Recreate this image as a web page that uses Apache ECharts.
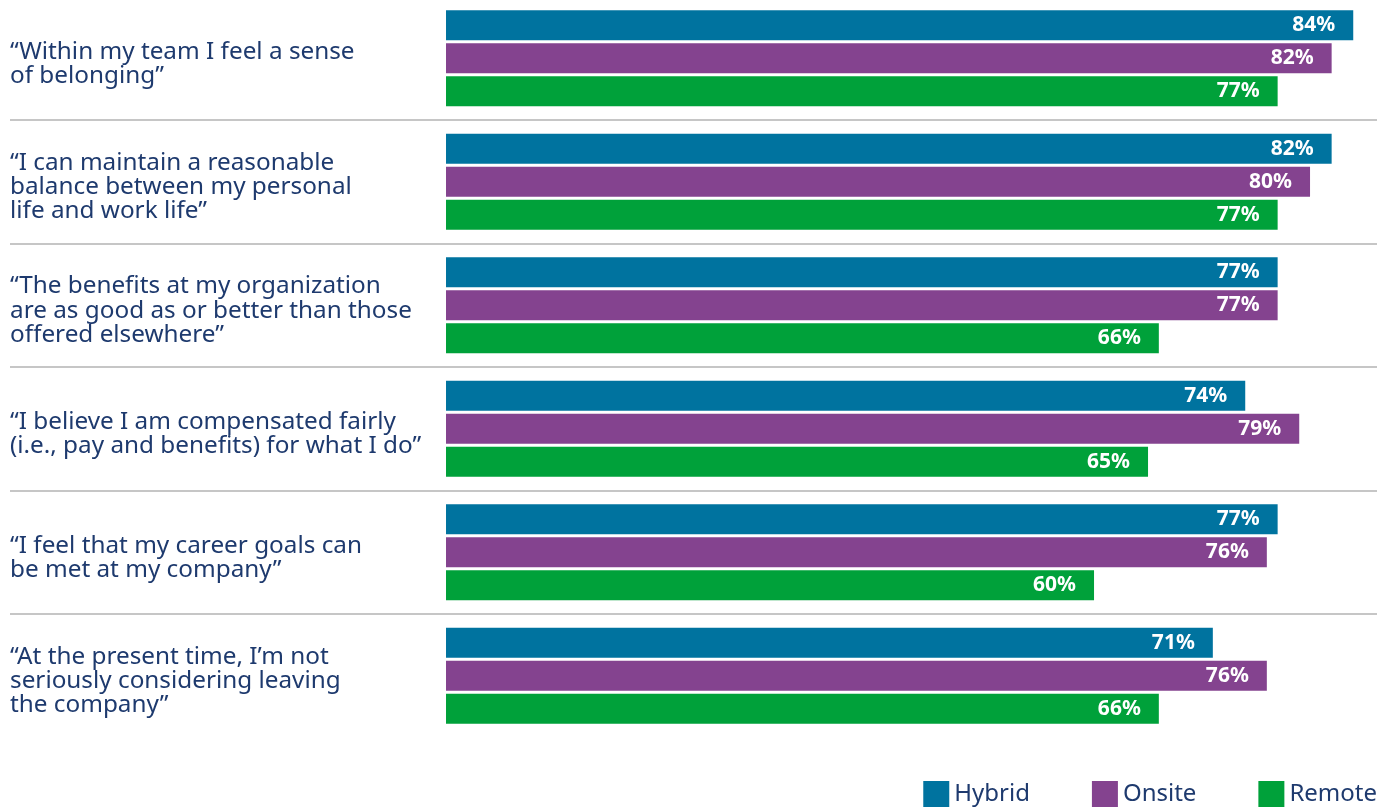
<!DOCTYPE html>
<html>
<head>
<meta charset="utf-8">
<script src="https://cdn.jsdelivr.net/npm/echarts@6/dist/echarts.min.js"></script>
<style>
html,body{margin:0;padding:0;background:#fff;}
#chart{width:1397px;height:808px;}
</style>
</head>
<body>
<div id="chart"></div>
<script>
const categories = [
  "“Within my team I feel a sense\nof belonging”",
  "“I can maintain a reasonable\nbalance between my personal\nlife and work life”",
  "“The benefits at my organization\nare as good as or better than those\noffered elsewhere”",
  "“I believe I am compensated fairly\n(i.e., pay and benefits) for what I do”",
  "“I feel that my career goals can\nbe met at my company”",
  "“At the present time, I’m not\nseriously considering leaving\nthe company”"
];
const hybrid = [84, 82, 77, 74, 77, 71];
const onsite = [82, 80, 77, 79, 76, 76];
const remote = [77, 77, 66, 65, 60, 66];
const seriesNames = ["Hybrid", "Onsite", "Remote"];
const colors = ["#00739f", "#84438f", "#00a13a"];

const chart = echarts.init(document.getElementById('chart'));
const valueLabel = {
  show: true,
  position: 'insideRight',
  distance: 18,
  color: '#ffffff',
  fontFamily: 'Noto Sans',
  fontWeight: 'bold',
  fontSize: 21,
  formatter: p => p.value + '%'
};
function mk(name, data, color) {
  return {
    name: name,
    type: 'bar',
    data: data,
    barWidth: 30,
    barGap: '10%',
    itemStyle: { color: color },
    label: valueLabel
  };
}
chart.setOption({
  animation: false,
  textStyle: { fontFamily: 'Noto Sans' },
  grid: { left: 10, right: 20, top: -3.5, height: 741, containLabel: false, outerBoundsMode: 'none' },
  xAxis: {
    type: 'value',
    min: -40.37,
    max: 86.2,
    show: false
  },
  yAxis: {
    type: 'category',
    data: categories,
    inverse: true,
    axisLine: { show: false, onZero: false },
    axisTick: { show: false },
    splitLine: {
      show: true,
      lineStyle: {
        width: 2,
        color: ['rgba(0,0,0,0)', '#c6c6c6', '#c6c6c6', '#c6c6c6', '#c6c6c6', '#c6c6c6', 'rgba(0,0,0,0)']
      }
    },
    axisLabel: {
      inside: true,
      margin: 0,
      align: 'left',
      verticalAlign: 'middle',
      formatter: v => '{s| }\n' + v.split('\n').map(l => '{a|' + l + '}').join('\n'),
      rich: {
        s: { fontSize: 1, lineHeight: 11 },
        a: {
          color: '#1e3a6e',
          fontFamily: 'Noto Sans',
          fontSize: 24.3,
          lineHeight: 24.3
        }
      }
    }
  },
  legend: {
    data: seriesNames,
    right: 15,
    top: 776,
    itemWidth: 26,
    itemHeight: 26,
    itemGap: 62,
    icon: 'rect',
    textStyle: { color: '#1e3a6e', fontSize: 24, fontFamily: 'Noto Sans', padding: [2, 0, 0, 0] }
  },
  series: [
    mk(seriesNames[0], hybrid, colors[0]),
    mk(seriesNames[1], onsite, colors[1]),
    mk(seriesNames[2], remote, colors[2])
  ]
});
</script>
</body>
</html>
